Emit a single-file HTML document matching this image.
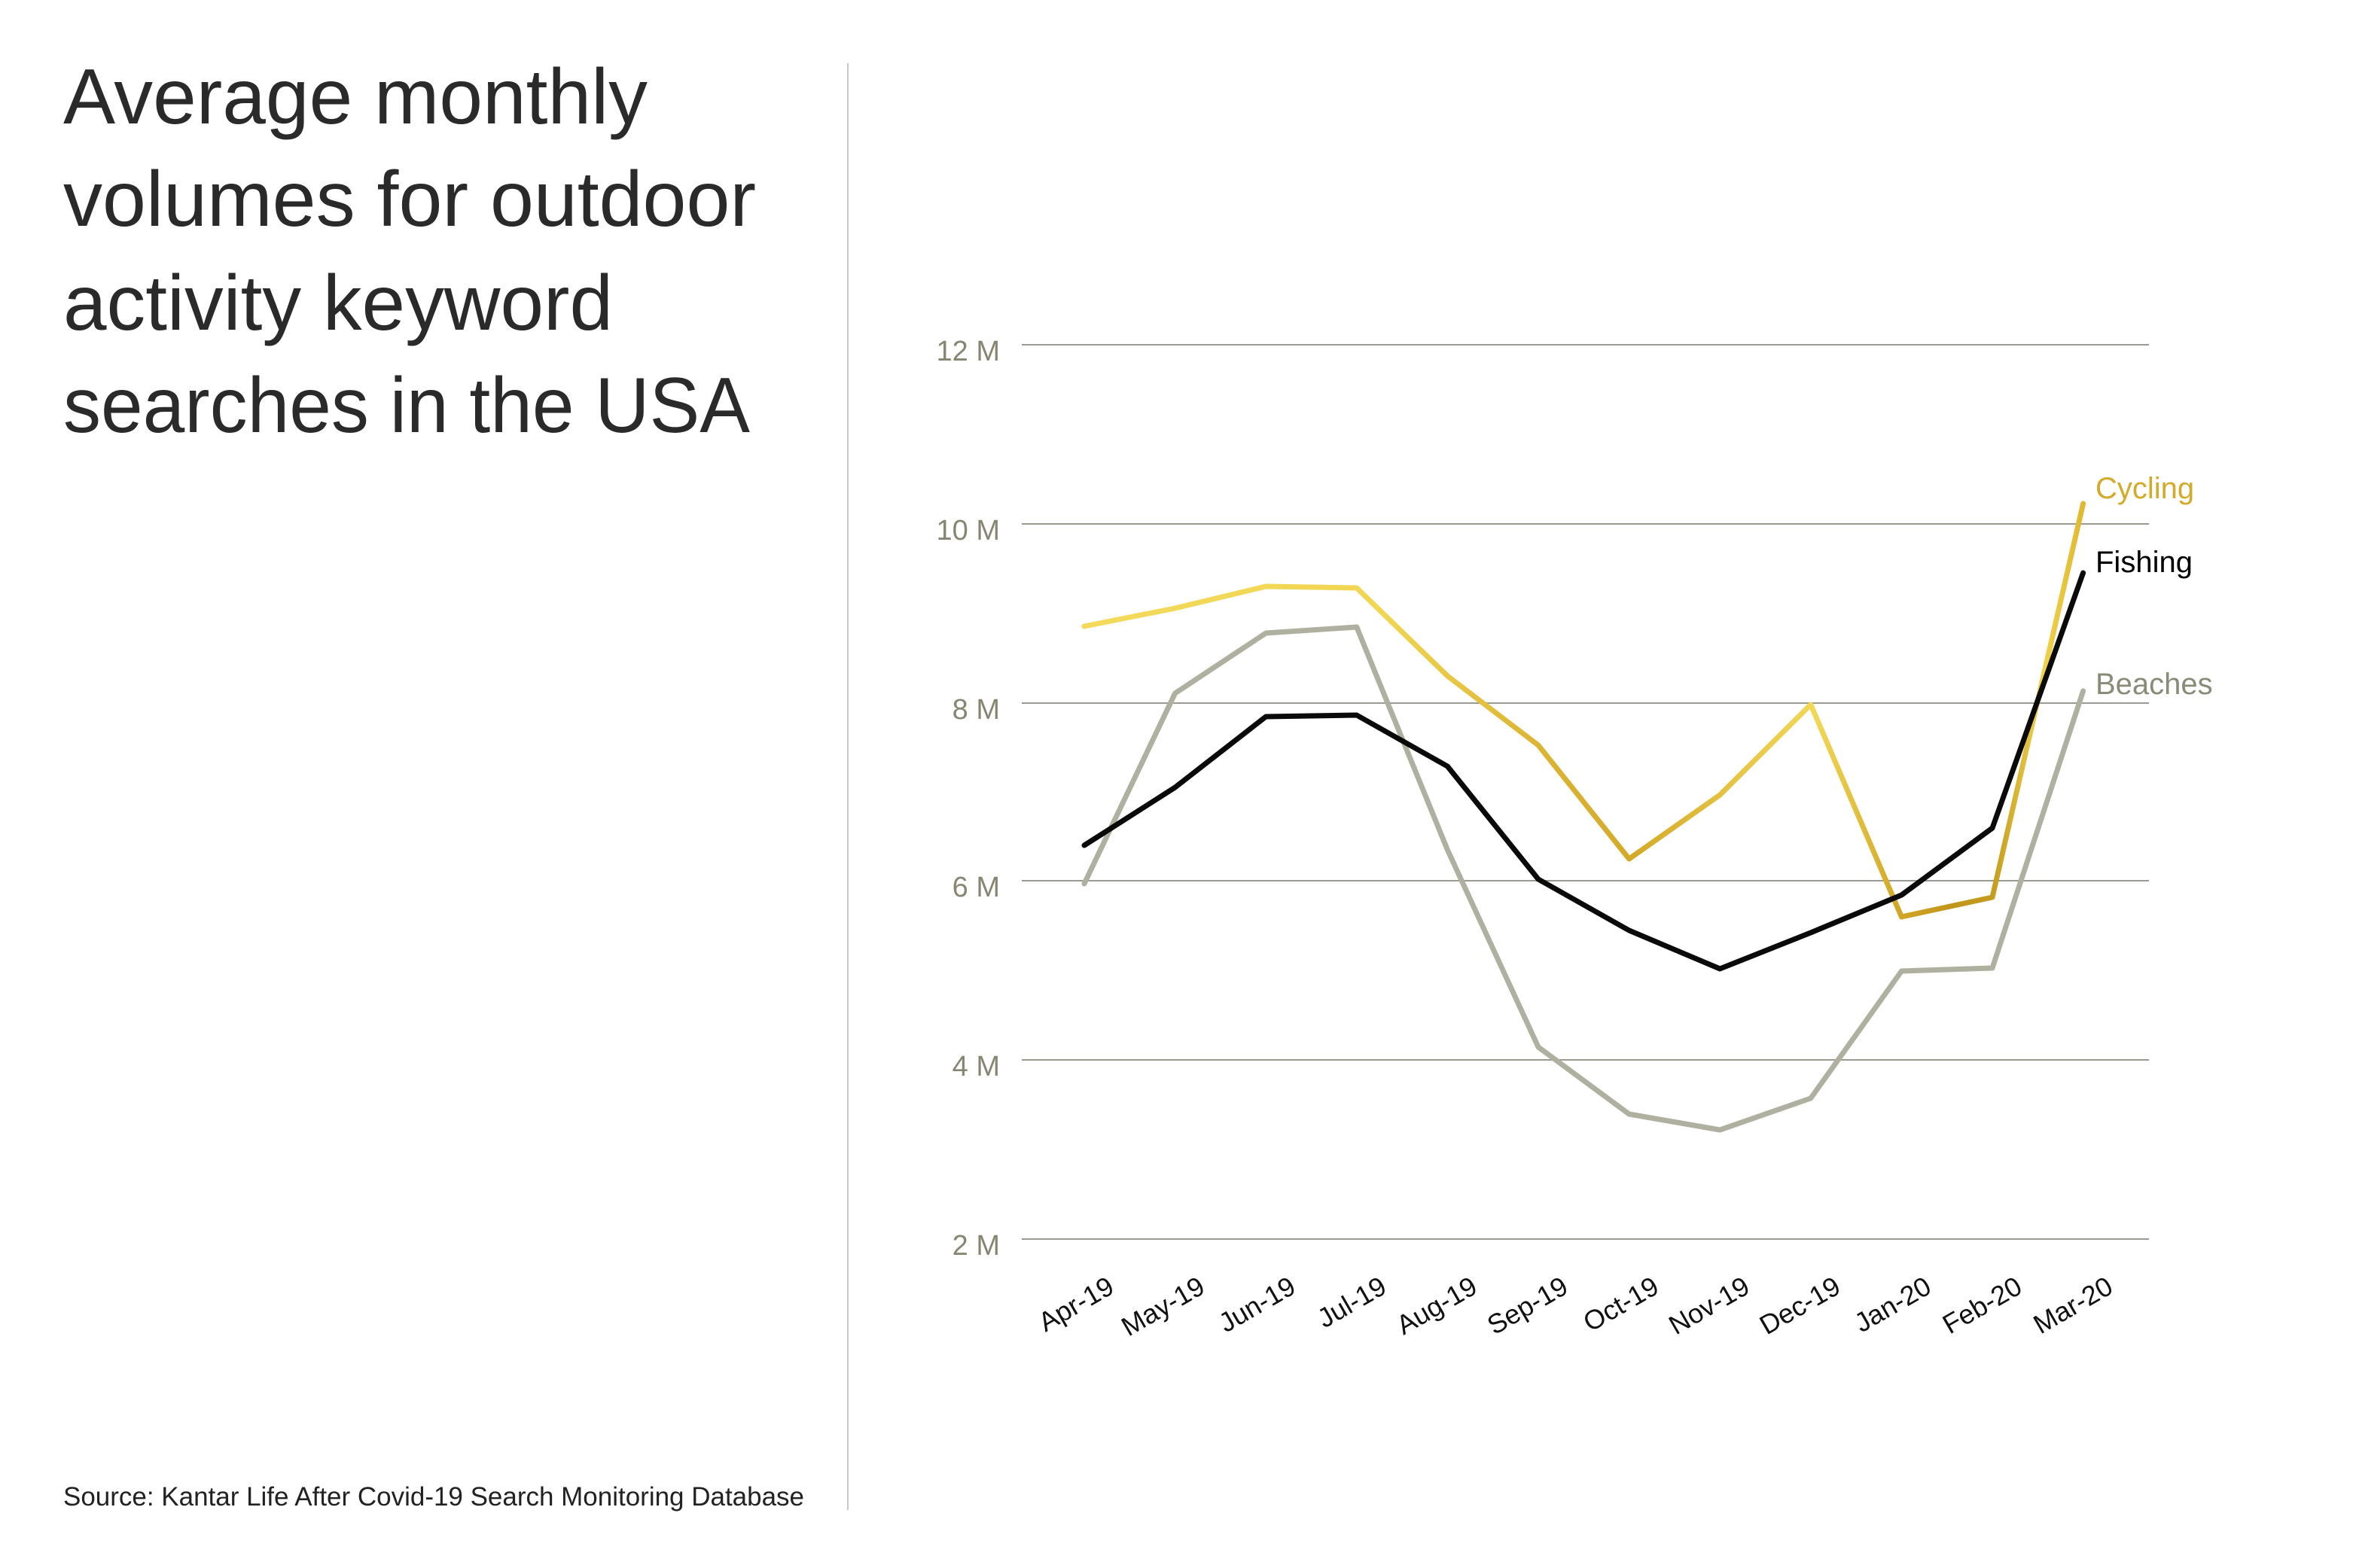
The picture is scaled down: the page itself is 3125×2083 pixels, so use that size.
<!DOCTYPE html>
<html><head><meta charset="utf-8"><style>
html,body{margin:0;padding:0;background:#fff;}
svg{display:block;}
</style></head><body>
<svg width="3125" height="2083" viewBox="0 0 3125 2083" xmlns="http://www.w3.org/2000/svg" font-family="'Liberation Sans', sans-serif">
<defs>
<linearGradient id="cyc" gradientUnits="userSpaceOnUse" x1="1440" y1="0" x2="2767" y2="0">
<stop offset="0" stop-color="#f3da5c"/>
<stop offset="0.3" stop-color="#f1d652"/>
<stop offset="0.45" stop-color="#dcb535"/>
<stop offset="0.55" stop-color="#d4aa28"/>
<stop offset="0.65" stop-color="#e6c444"/>
<stop offset="0.73" stop-color="#f2d858"/>
<stop offset="0.82" stop-color="#d0a424"/>
<stop offset="0.87" stop-color="#c0951a"/>
<stop offset="0.91" stop-color="#c69d20"/>
<stop offset="0.96" stop-color="#f0d24e"/>
<stop offset="1" stop-color="#e0b830"/>
</linearGradient>
</defs>
<g fill="#2a2a2a" font-size="104" font-weight="300">
<text x="84" y="164" textLength="776" lengthAdjust="spacingAndGlyphs">Average monthly</text>
<text x="84" y="300" textLength="920" lengthAdjust="spacingAndGlyphs">volumes for outdoor</text>
<text x="84" y="438" textLength="730" lengthAdjust="spacingAndGlyphs">activity keyword</text>
<text x="84" y="574" textLength="912" lengthAdjust="spacingAndGlyphs">searches in the USA</text>
</g>
<line x1="1126" y1="84" x2="1126" y2="2006" stroke="#c8c8c8" stroke-width="2"/>
<text x="84" y="2000" font-size="35" fill="#222" textLength="984" lengthAdjust="spacingAndGlyphs">Source: Kantar Life After Covid-19 Search Monitoring Database</text>
<g transform="translate(0,-4)">
<g stroke="#9a9a90" stroke-width="2">
<line x1="1357" y1="462" x2="2854" y2="462"/>
<line x1="1357" y1="700" x2="2854" y2="700"/>
<line x1="1357" y1="938" x2="2854" y2="938"/>
<line x1="1357" y1="1174" x2="2854" y2="1174"/>
<line x1="1357" y1="1412" x2="2854" y2="1412"/>
<line x1="1357" y1="1650" x2="2854" y2="1650"/>
</g>
<g fill="#868673" font-size="38" text-anchor="end">
<text x="1328" y="483">12 M</text>
<text x="1328" y="721">10 M</text>
<text x="1328" y="959">8 M</text>
<text x="1328" y="1195">6 M</text>
<text x="1328" y="1433">4 M</text>
<text x="1328" y="1671">2 M</text>
</g>
<g fill="none" stroke-linejoin="round" stroke-linecap="round" stroke-width="7">
<polyline stroke="#b0b0a0" points="1440,1178 1560.6,925 1681.2,845 1801.8,837 1922.4,1133 2043,1395 2163.6,1484 2284.2,1505 2404.8,1463 2525.4,1294 2646,1290 2766.6,922"/>
<polyline stroke="url(#cyc)" points="1440,836 1560.6,812 1681.2,783 1801.8,785 1922.4,902 2043,994 2163.6,1145 2284.2,1060 2404.8,940 2525.4,1222 2646,1196 2766.6,673"/>
<polyline stroke="#0a0a0a" points="1440,1127 1560.6,1050 1681.2,956 1801.8,954 1922.4,1022 2043,1172 2163.6,1240 2284.2,1291 2404.8,1243 2525.4,1193 2646,1104 2766.6,765"/>
</g>
</g>
<g font-size="40">
<text x="2783" y="662" fill="#d4aa2a">Cycling</text>
<text x="2783" y="760" fill="#000">Fishing</text>
<text x="2783" y="922" fill="#8a8a78">Beaches</text>
</g>
<g font-size="36" fill="#111" text-anchor="end">
<text transform="translate(1482,1716) rotate(-30)">Apr-19</text>
<text transform="translate(1602.6,1716) rotate(-30)">May-19</text>
<text transform="translate(1723.2,1716) rotate(-30)">Jun-19</text>
<text transform="translate(1843.8,1716) rotate(-30)">Jul-19</text>
<text transform="translate(1964.4,1716) rotate(-30)">Aug-19</text>
<text transform="translate(2085,1716) rotate(-30)">Sep-19</text>
<text transform="translate(2205.6,1716) rotate(-30)">Oct-19</text>
<text transform="translate(2326.2,1716) rotate(-30)">Nov-19</text>
<text transform="translate(2446.8,1716) rotate(-30)">Dec-19</text>
<text transform="translate(2567.4,1716) rotate(-30)">Jan-20</text>
<text transform="translate(2688,1716) rotate(-30)">Feb-20</text>
<text transform="translate(2808.6,1716) rotate(-30)">Mar-20</text>
</g>
</svg>
</body></html>
